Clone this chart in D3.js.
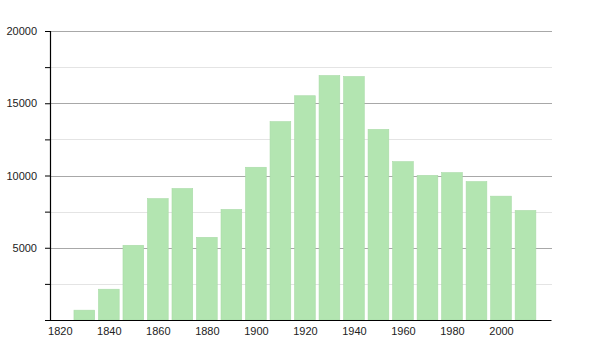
<!DOCTYPE html>
<html>
<head>
<meta charset="utf-8">
<script src="https://cdn.jsdelivr.net/npm/d3@7"></script>
<style>
  body { margin: 0; background: #fff; }
  text { font-family: "Liberation Sans", Arial, sans-serif; font-size: 11px; fill: #222; }
</style>
</head>
<body>
<div id="chart"></div>
<script>
// decade census years and population
const years = [1830, 1840, 1850, 1860, 1870, 1880, 1890, 1900, 1910, 1920,
  1930, 1940, 1950, 1960, 1970, 1980, 1990, 2000, 2010];
const population = [680, 2130, 5170, 8400, 9100, 5720, 7650, 10570, 13730, 15520,
  16920, 16850, 13190, 10960, 10010, 10200, 9580, 8570, 7580];
const xTicks = [1820, 1840, 1860, 1880, 1900, 1920, 1940, 1960, 1980, 2000];
const yTicks = [5000, 10000, 15000, 20000];
const yMinor = [2500, 7500, 12500, 17500];

const width = 600;
const height = 350;
const margin = { top: 31, right: 49, bottom: 30, left: 50 };
const graphWidth = width - margin.left - margin.right;
const graphHeight = height - margin.top - margin.bottom;

const svg = d3.select("#chart").append("svg")
  .attr("width", width)
  .attr("height", height);

const graph = svg.append("g")
  .attr("transform", `translate(${margin.left}, ${margin.top})`);

const x = d3.scaleLinear().domain([1816, 2020.4]).range([0, graphWidth]);
const y = d3.scaleLinear().domain([0, 20000]).range([graphHeight, 0]);

// grid lines
graph.append("g").selectAll("line").data(yMinor).enter().append("line")
  .attr("x1", 0).attr("x2", graphWidth + 1)
  .attr("y1", d => Math.round(y(d)) + 0.5).attr("y2", d => Math.round(y(d)) + 0.5)
  .attr("stroke", "#e4e4e4");
graph.append("g").selectAll("line").data(yTicks).enter().append("line")
  .attr("x1", 0).attr("x2", graphWidth + 1)
  .attr("y1", d => Math.round(y(d)) + 0.5).attr("y2", d => Math.round(y(d)) + 0.5)
  .attr("stroke", "#a8a8a8");

const decade = x(1830) - x(1820);
const barW = decade * 0.845;

graph.selectAll("rect").data(years).enter().append("rect")
  .attr("x", (d) => x(d) - barW / 2)
  .attr("width", barW)
  .attr("y", (d, i) => y(population[i]))
  .attr("height", (d, i) => graphHeight - y(population[i]))
  .attr("fill", "#b3e5b1")
  .attr("stroke", "#a9dba7")
  .attr("stroke-width", 0.6);

const xAxis = d3.axisBottom(x).tickValues(xTicks).tickFormat(d => d).tickSize(0).tickPadding(7);
const yAxis = d3.axisLeft(y).tickValues(yMinor.concat(yTicks)).tickSize(5).tickPadding(8)
  .tickFormat(d => yTicks.includes(d) ? d : "");

const gX = graph.append("g").attr("transform", `translate(0, ${graphHeight})`).call(xAxis);
const gY = graph.append("g").call(yAxis);

gX.select(".domain").attr("stroke", "#000").attr("stroke-width", 1.2);
gY.select(".domain").attr("stroke", "#000").attr("stroke-width", 1.2);
gY.selectAll(".tick line").attr("stroke", "#000");
gX.selectAll("text").style("font-size", "11px").attr("fill", "#222");
gY.selectAll("text").style("font-size", "11px").attr("fill", "#222");
</script>
</body>
</html>
